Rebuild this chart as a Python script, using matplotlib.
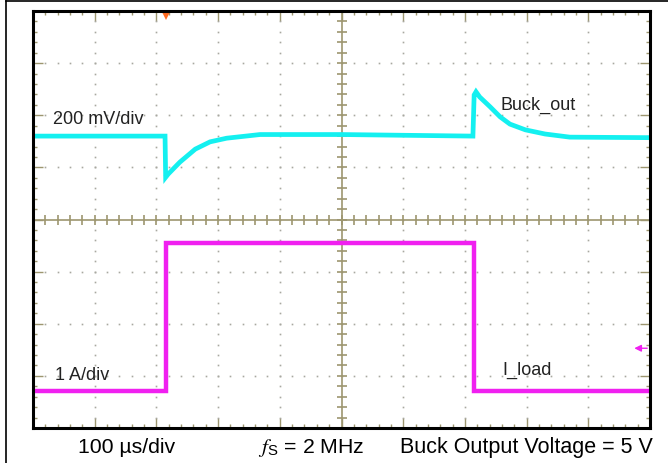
import numpy as np
import matplotlib.pyplot as plt
from matplotlib.lines import Line2D

plt.rcParams['font.family'] = ['Liberation Sans', 'DejaVu Sans']
plt.rcParams['mathtext.fontset'] = 'custom'
plt.rcParams['mathtext.it'] = 'STIXGeneral:italic'
plt.rcParams['mathtext.rm'] = 'Liberation Sans'

# scope traces, in divisions (x: 0..10, y: -4..4)
buck_t = [0, 2.14, 2.15, 2.19, 2.38, 2.63, 2.87, 3.14, 3.68, 5.0, 7.13,
          7.15, 7.18, 7.24, 7.41, 7.57, 7.73, 7.98, 8.30, 8.70, 10]
buck_v = [1.60, 1.60, 0.81, 0.87, 1.10, 1.35, 1.49, 1.56, 1.63, 1.63, 1.60,
          2.39, 2.45, 2.35, 2.16, 1.97, 1.83, 1.72, 1.64, 1.58, 1.57]
load_t = [0, 2.15, 2.15, 7.14, 7.14, 10]
load_i = [-3.29, -3.29, -0.45, -0.45, -3.29, -3.29]

cyan = '#14f0f0'
magenta = '#f020f0'
tick_col = '#9d9670'

fig = plt.figure(figsize=(6.68, 4.64), dpi=100)
ax = fig.add_axes([33 / 668, 35 / 464, 617 / 668, 417 / 464])
ax.set_xlim(0, 10)
ax.set_ylim(-4, 4)

# edge ticks
ax.set_xticks(range(0, 11))
ax.set_yticks(range(-4, 5))
ax.set_xticks(np.arange(0, 10.01, 0.2), minor=True)
ax.set_yticks(np.arange(-4, 4.01, 0.2), minor=True)
ax.tick_params(which='both', direction='in', top=True, right=True,
               labelbottom=False, labelleft=False, color=tick_col, width=1)
ax.tick_params(which='major', length=7)
ax.tick_params(which='minor', length=3)
for s in ax.spines.values():
    s.set_linewidth(2.2)
    s.set_color('black')
    s.set_zorder(6)

# dotted grid
fine_x = np.arange(0.2, 10, 0.2)
fine_y = np.arange(-3.8, 4, 0.2)
for gx in [1, 2, 3, 4, 6, 7, 8, 9]:
    ax.plot([gx] * len(fine_y), fine_y, ls='none', marker='s', ms=1.2,
            color='#a8a8a0', mew=0)
for gy in [-3, -2, -1, 1, 2, 3]:
    ax.plot(fine_x, [gy] * len(fine_x), ls='none', marker='s', ms=1.2,
            color='#a8a8a0', mew=0)

# centre graticule lines with ticks
ax.axvline(5, color=tick_col, lw=1.2)
ax.axhline(0, color=tick_col, lw=1.2)
ax.plot([5] * len(fine_y), fine_y, ls='none', marker='_', ms=7, mew=1.2,
        color=tick_col)
ax.plot(fine_x, [0] * len(fine_x), ls='none', marker='|', ms=7, mew=1.2,
        color=tick_col)

# traces
ax.plot(buck_t, buck_v, color=cyan, lw=3.4, solid_joinstyle='miter', zorder=4)
ax.plot(load_t, load_i, color=magenta, lw=3.2, solid_joinstyle='miter', zorder=4)

# trigger marker and ch2 reference arrow
ax.plot([2.15], [4.02], marker='v', ms=15, color='#ff6a20', mew=0, zorder=5)
ax.annotate('', xy=(9.70, -2.47), xytext=(10, -2.47),
            arrowprops=dict(arrowstyle='-|>', color=magenta, lw=1,
                            mutation_scale=10))

# labels
ax.text(0.32, 1.93, '200 mV/div', fontsize=13, va='center', color='#222222')
ax.text(7.57, 2.21, 'Buck_out', fontsize=13, va='center', color='#222222')
ax.text(0.36, -2.97, '1 A/div', fontsize=13, va='center', color='#222222')
ax.text(7.60, -2.87, 'I_load', fontsize=13, va='center', color='#222222')

fig.text(78 / 668, 0.035, '100 µs/div', fontsize=15.3, va='center')
fig.text(258 / 668, 0.035, r'$f_{\mathrm{S}}$ = 2 MHz', fontsize=15.3, va='center')
fig.text(400 / 668, 0.035, 'Buck Output Voltage = 5 V', fontsize=15.5, va='center')

# outer frame
fig.add_artist(Line2D([6 / 668, 6 / 668], [0, 1 - 2 / 464], color='black', lw=1.2))
fig.add_artist(Line2D([6 / 668, 1], [1 - 2 / 464, 1 - 2 / 464], color='black', lw=1.2))

fig.savefig('out.png', dpi=100)
